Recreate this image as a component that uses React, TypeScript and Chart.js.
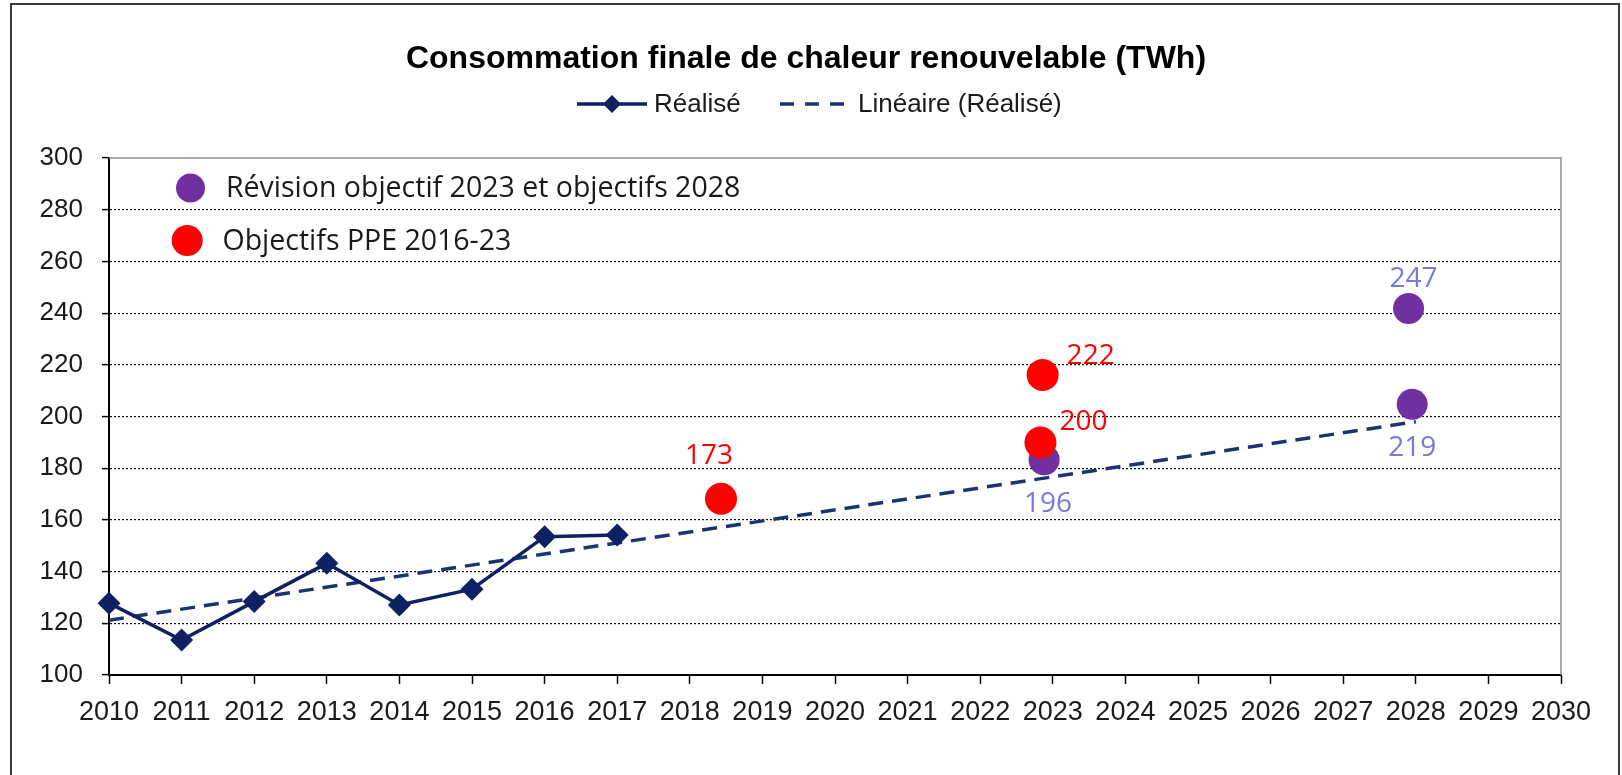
import React, { useEffect, useRef } from "react";
import { Chart, registerables } from "chart.js";

Chart.register(...registerables);

// ---------- data ----------
const TITLE = "Consommation finale de chaleur renouvelable (TWh)";
const SERIES_REALISE = "Réalisé";
const SERIES_TREND = "Linéaire (Réalisé)";
const SERIES_REVISION = "Révision objectif 2023 et objectifs 2028";
const SERIES_PPE = "Objectifs PPE 2016-23";

const X_MIN = 2010;
const X_MAX = 2030;
const X_STEP = 1;
const Y_MIN = 100;
const Y_MAX = 300;
const Y_STEP = 20;

const realiseYears = [2010, 2011, 2012, 2013, 2014, 2015, 2016, 2017];
const realiseValues = [127.8, 113.5, 128.4, 143.2, 127.1, 133.2, 153.5, 154.2];

const trendYears = [2010, 2028];
const trendValues = [121.2, 198.0];

const ppeYears = [2018.43, 2022.83, 2022.86];
const ppeValues = [168.2, 189.9, 216.1];
const ppeLabels = ["173", "200", "222"];

const revisionYears = [2022.88, 2027.95, 2027.9];
const revisionValues = [183.3, 204.7, 241.8];
const revisionLabels = ["196", "219", "247"];

// ---------- styles ----------
const NAVY = "#0E2163";
const TREND_COLOR = "#1A3470";
const RED = "#FF0000";
const PURPLE = "#7030A0";
const PURPLE_LABEL = "#7878DE";
const ARIAL = "'Liberation Sans', Arial, sans-serif";
const CALIBRI = "'Open Sans', 'Noto Sans', sans-serif";

// label offsets relative to their point (px)
const ppeLabelOffsets = [[-12, -43], [43, -21], [48, -19]];
const revisionLabelOffsets = [[4, 44], [0, 44], [5, -29]];

const toPoints = (xs: number[], ys: number[]) => xs.map((x, i) => ({ x, y: ys[i] }));

const decorPlugin = {
  id: "decor",
  beforeDraw(chart: any) {
    const ctx = chart.ctx as CanvasRenderingContext2D;
    ctx.save();
    ctx.fillStyle = "#ffffff";
    ctx.fillRect(0, 0, chart.width, chart.height);
    // outer frame
    ctx.strokeStyle = "#3a3a3a";
    ctx.lineWidth = 2;
    ctx.beginPath();
    ctx.moveTo(11, chart.height + 10);
    ctx.lineTo(11, 4);
    ctx.lineTo(1619, 4);
    ctx.lineTo(1619, chart.height + 10);
    ctx.stroke();

    // title
    ctx.fillStyle = "#000";
    ctx.font = `bold 32px ${ARIAL}`;
    ctx.textAlign = "center";
    ctx.textBaseline = "middle";
    ctx.fillText(TITLE, 806, 59);

    // legend
    const ly = 104;
    ctx.strokeStyle = NAVY;
    ctx.lineWidth = 3.5;
    ctx.beginPath();
    ctx.moveTo(577, ly);
    ctx.lineTo(647, ly);
    ctx.stroke();
    ctx.fillStyle = NAVY;
    ctx.beginPath();
    ctx.moveTo(612, ly - 9);
    ctx.lineTo(621, ly);
    ctx.lineTo(612, ly + 9);
    ctx.lineTo(603, ly);
    ctx.closePath();
    ctx.fill();
    ctx.fillStyle = "#1a1a1a";
    ctx.font = `26px ${ARIAL}`;
    ctx.textAlign = "left";
    ctx.fillText(SERIES_REALISE, 654, ly + 1);

    ctx.strokeStyle = TREND_COLOR;
    ctx.lineWidth = 3.5;
    ctx.setLineDash([14, 11]);
    ctx.beginPath();
    ctx.moveTo(780, ly);
    ctx.lineTo(844, ly);
    ctx.stroke();
    ctx.setLineDash([]);
    ctx.fillText(SERIES_TREND, 858, ly + 1);
    ctx.restore();
  },
  beforeDatasetsDraw(chart: any) {
    const ctx = chart.ctx as CanvasRenderingContext2D;
    const a = chart.chartArea;
    ctx.save();
    ctx.strokeStyle = "#8c8c8c";
    ctx.lineWidth = 1.5;
    ctx.beginPath();
    ctx.moveTo(a.left, a.top);
    ctx.lineTo(a.right, a.top);
    ctx.lineTo(a.right, a.bottom);
    ctx.stroke();

    // inner legend
    ctx.fillStyle = PURPLE;
    ctx.beginPath();
    ctx.arc(190.5, 188, 14.5, 0, Math.PI * 2);
    ctx.fill();
    ctx.fillStyle = RED;
    ctx.beginPath();
    ctx.arc(187.2, 240.5, 15.5, 0, Math.PI * 2);
    ctx.fill();
    ctx.fillStyle = "#1a1a1a";
    ctx.font = `28.5px ${CALIBRI}`;
    ctx.textAlign = "left";
    ctx.textBaseline = "middle";
    ctx.fillText(SERIES_REVISION, 226, 189);
    ctx.fillText(SERIES_PPE, 222.5, 241.5);
    ctx.restore();
  },
  afterDatasetsDraw(chart: any) {
    const ctx = chart.ctx as CanvasRenderingContext2D;
    ctx.save();
    ctx.font = `28px ${CALIBRI}`;
    ctx.textAlign = "center";
    ctx.textBaseline = "middle";
    const drawLabels = (dsIndex: number, labels: string[], offsets: number[][], color: string) => {
      const meta = chart.getDatasetMeta(dsIndex);
      ctx.fillStyle = color;
      meta.data.forEach((el: any, i: number) => {
        ctx.fillText(labels[i], el.x + offsets[i][0], el.y + offsets[i][1]);
      });
    };
    drawLabels(0, ppeLabels, ppeLabelOffsets, RED);
    drawLabels(1, revisionLabels, revisionLabelOffsets, PURPLE_LABEL);
    ctx.restore();
  },
};

export default function App() {
  const canvasRef = useRef<HTMLCanvasElement | null>(null);

  useEffect(() => {
    if (!canvasRef.current) return;
    const chart = new Chart(canvasRef.current, {
      type: "scatter",
      data: {
        datasets: [
          {
            label: SERIES_PPE,
            data: toPoints(ppeYears, ppeValues),
            backgroundColor: RED,
            borderWidth: 0,
            pointRadius: 16,
            showLine: false,
            clip: false,
          },
          {
            label: SERIES_REVISION,
            data: toPoints(revisionYears, revisionValues),
            backgroundColor: PURPLE,
            borderWidth: 0,
            pointRadius: 15.5,
            showLine: false,
            clip: false,
          },
          {
            label: SERIES_REALISE,
            data: toPoints(realiseYears, realiseValues),
            showLine: true,
            borderColor: NAVY,
            borderWidth: 3.5,
            backgroundColor: NAVY,
            pointStyle: "rectRot",
            pointRadius: 11.5,
            pointBorderWidth: 0,
            pointBackgroundColor: NAVY,
            clip: false,
          },
          {
            label: SERIES_TREND,
            data: toPoints(trendYears, trendValues),
            showLine: true,
            borderColor: TREND_COLOR,
            borderWidth: 3.5,
            borderDash: [15, 9],
            pointRadius: 0,
          },
        ] as any,
      },
      options: {
        responsive: false,
        animation: false,
        devicePixelRatio: 1,
        layout: { padding: { left: 0, right: 61, top: 158, bottom: 0 } },
        plugins: {
          legend: { display: false },
          title: { display: false },
          tooltip: { enabled: false },
        },
        scales: {
          x: {
            type: "linear",
            min: X_MIN,
            max: X_MAX,
            ticks: {
              stepSize: X_STEP,
              autoSkip: false,
              maxRotation: 0,
              padding: 12,
              color: "#1a1a1a",
              font: { family: ARIAL, size: 27 },
              callback: (v: any) => String(v),
            },
            grid: {
              drawOnChartArea: false,
              drawTicks: true,
              tickLength: 9,
              tickColor: "#000",
              tickWidth: 1.5,
            },
            border: { display: true, color: "#000", width: 2 },
            afterFit: (s: any) => {
              s.height = 100;
            },
          },
          y: {
            type: "linear",
            min: Y_MIN,
            max: Y_MAX,
            ticks: {
              stepSize: Y_STEP,
              padding: 19,
              color: "#1a1a1a",
              font: { family: ARIAL, size: 26 },
            },
            grid: {
              color: (c: any) =>
                c.tick && (c.tick.value === Y_MIN || c.tick.value === Y_MAX) ? "rgba(0,0,0,0)" : "#111",
              lineWidth: 1.2,
              tickLength: 7,
              tickColor: "#000",
              tickWidth: 1.5,
              tickBorderDash: [],
            },
            border: { display: true, color: "#000", width: 2, dash: [2, 2] },
            afterFit: (s: any) => {
              s.width = 109;
            },
          },
        },
      } as any,
      plugins: [decorPlugin],
    });
    return () => chart.destroy();
  }, []);

  return (
    <div style={{ position: "absolute", left: 0, top: 0, width: 1622, height: 775, overflow: "hidden", background: "#fff" }}>
      <canvas ref={canvasRef} width={1622} height={775} style={{ display: "block", width: 1622, height: 775 }} />
    </div>
  );
}
